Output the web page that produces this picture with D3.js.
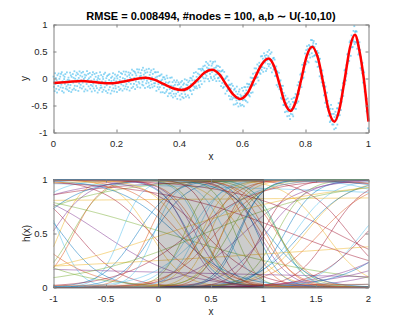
<!DOCTYPE html>
<html>
<head>
<meta charset="utf-8">
<script src="https://cdn.jsdelivr.net/npm/d3@7"></script>
<style>
  body { margin: 0; background: #fff; }
  svg { display: block; font-family: "Liberation Sans", Arial, Helvetica, sans-serif; }
</style>
</head>
<body>
<div id="chart"></div>
<script>
const width = 407, height = 326;

// top panel: fitted curve
const fitX = [0, 0.045, 0.09, 0.135, 0.18, 0.235, 0.29, 0.32, 0.349, 0.379, 0.408, 0.432, 0.456, 0.479,
  0.503, 0.526, 0.548, 0.571, 0.593, 0.616, 0.638, 0.661, 0.683, 0.700, 0.718, 0.735, 0.752, 0.769,
  0.787, 0.804, 0.821, 0.839, 0.857, 0.874, 0.892, 0.908, 0.925, 0.941, 0.957, 0.971, 0.985, 1.0];
const fitY = [-0.085, -0.065, -0.045, -0.068, -0.09, -0.04, 0.015, -0.02, -0.10, -0.18, -0.215, -0.16, -0.03, 0.105,
  0.16, 0.08, -0.11, -0.30, -0.38, -0.27, -0.005, 0.26, 0.37, 0.23, -0.115, -0.46, -0.60, -0.43,
  -0.005, 0.42, 0.59, 0.39, -0.105, -0.60, -0.80, -0.56, 0.005, 0.57, 0.81, 0.52, 0.0, -0.80];

// noisy samples: offset from the fit, in hundredths
const residuals = [
  12,-7,3,-15,18,-2,9,-11,5,-18,14,0,-6,17,-13,7,-1,11,-9,16,
  -4,19,-16,2,-10,13,-19,6,10,-3,15,-12,1,-8,18,-14,4,-5,8,-17,
  3,-11,17,-6,12,-19,9,0,-15,14,-2,7,-13,19,-8,5,-16,11,-1,16,
  -9,2,13,-18,6,-4,18,-12,10,-7,1,15,-14,8,-3,17,-10,4,-19,12,
  7,-15,0,11,-5,19,-17,3,14,-9,6,-1,16,-13,9,-6,2,-18,13,-8,
  18,-3,-12,5,15,-16,1,10,-7,17,-11,4,-19,8,12,-2,-14,6,19,-10,
  -5,14,-9,2,-17,11,7,-13,16,-1,-8,19,3,-15,9,-4,13,-18,0,15,
  -12,6,17,-7,1,-19,10,4,-14,12,-3,18,-10,5,-16,8,15,-6,-11,2,
  11,-18,7,13,-2,-9,19,-15,3,9,-13,16,-5,0,14,-17,6,-8,18,-1,
  -14,4,12,-10,17,-6,-16,8,1,-12,15,-3,10,-19,5,13,-7,2,-15,19,
  9,-1,-13,16,-8,3,14,-18,11,-4,7,-11,18,-15,0,12,-6,17,-9,4,
  -17,10,5,-2,15,-12,-7,19,-14,6,-3,13,-19,9,2,-10,16,-5,11,-16,
  1,-8,18,-13,7,-17,12,-4,16,-10,3,-15,10,-1,19,-7,-12,14,-6,5,
  15,-19,2,8,-11,17,-5,-14,11,0,-9,13,-18,4,16,-3,7,-16,12,-2,
  -7,13,-16,10,-1,5,-12,18,-8,14,-19,6,1,-13,9,-4,17,-11,3,-15,
  19,-6,11,-17,4,-10,15,-2,7,-14,12,-9,0,16,-18,8,-5,13,-1,10,
  -11,3,-18,14,6,-7,17,-13,2,9,-16,11,-4,18,-10,1,-15,7,15,-3,
  5,-14,10,-1,-19,12,-6,16,-9,3,13,-17,8,-2,14,-12,19,-7,4,-11,
  -2,17,-10,7,-15,0,11,-5,18,-13,6,-18,15,-8,1,10,-16,12,-4,9,
  14,-9,4,-16,13,-3,-11,19,-7,8,-1,15,-14,5,11,-19,3,-6,17,-12,
  -15,8,-4,12,-18,16,2,-10,6,-13,19,-5,9,-16,13,-2,5,-9,14,-7,
  6,-12,15,-1,9,-17,4,13,-8,17,-15,1,-11,18,-4,7,-19,11,-3,16,
  -10,18,-5,3,14,-14,8,-2,-17,11,5,-9,16,-12,2,15,-6,-18,10,0,
  13,-4,-15,9,-7,19,-11,6,1,-16,12,-3,17,-9,8,-13,4,-1,18,-14,
  -6,11,1,-19,16,-8,3,14,-12,7,-2,18,-17,10,-5,12,-10,9,-15,2,
  17,-13,6,-3,10,-18,15,-7,4,-11,19,-1,8,-14,13,-6,0,16,-9,3,
  -18,7,12,-8,2,-13,18,-4,-10,15,-6,9,-16,3,17,-11,11,-2,6,-19,
  10,-16,-1,14,-9,5,-14,17,0,-7,13,-12,4,19,-17,6,-3,12,-8,15,
  -3,16,-12,4,-6,13,-19,8,11,-15,2,-5,18,-10,7,-1,14,-16,9,-13,
  8,-2,19,-14,11,-9,3,-17,15,-4,10,-11,5,-18,16,-7,1,13,-12,6,
  -16,12,-7,1,18,-5,-13,9,-19,14,4,-8,11,-3,15,-15,8,-10,2,17,
  4,-19,14,-11,7,-1,16,-6,12,-16,-4,19,-9,6,-14,10,3,-13,18,-5,
  -8,15,-3,17,-12,9,0,-18,13,-6,8,-14,2,16,-1,-11,12,-17,5,11,
  16,-10,8,-6,3,-15,19,-1,-12,10,-18,5,14,-7,9,-19,17,-4,1,-9,
  -13,1,16,-9,12,-2,-16,11,6,-19,15,-8,3,-12,18,-5,10,-14,7,0,
  2,-17,9,-12,19,-7,5,-13,17,-3,-9,12,-15,8,0,14,-18,4,-6,13,
  -19,9,-6,15,-4,11,-14,2,8,-17,16,-10,6,-1,12,-16,7,-3,19,-11,
  12,-5,-17,7,-13,18,-3,10,-8,4,-16,14,-2,11,-19,3,15,-9,5,-12,
  -1,14,-8,19,-16,6,-10,13,-5,17,-12,1,9,-15,4,-7,16,-2,11,-18,
  7,-12,3,-9,15,-17,10,-4,18,-11,0,13,-6,9,-14,16,-3,8,-19,5
];

// bottom panel: hidden node parameters a, b of h(x) = 1 / (1 + exp(-(a x + b)))
const nodeA = [
  -7.3, 4.1, 9.2, -2.6, 6.8, -9.5, 1.4, -5.1, 8.3, -0.7,
  3.6, -8.2, 5.5, -3.9, 0.9, 7.7, -6.4, 2.3, -1.8, 9.8,
  -4.6, 6.1, -9.1, 4.8, -2.2, 8.9, -7.8, 1.1, 5.9, -3.3,
  0.05, -6.9, 7.2, -0.4, 3.0, -8.7, 9.4, -5.6, 2.7, -1.2,
  6.5, -9.9, 4.4, -2.9, 8.1, -7.1, 0.6, 5.2, -4.2, 3.8,
  -6.1, 9.0, -0.2, 1.9, -8.4, 7.4, -3.6, 6.3, -5.3, 2.1,
  -9.3, 4.9, -1.5, 8.6, -7.5, 0.3, 5.7, -2.4, 9.6, -4.9,
  3.3, -6.6, 7.9, -0.9, 1.6, -8.9, 6.0, -3.1, 4.6, -5.8,
  2.5, -9.7, 8.4, -1.1, 7.0, -4.4, 0.8, 5.0, -7.0, 3.9,
  -2.0, 9.1, -6.2, 1.3, -8.0, 6.7, -3.7, 4.2, -5.0, 0.15
];
const nodeB = [
  2.1, -6.3, 8.7, -1.4, 5.6, -9.0, 3.2, -4.7, 0.8, 7.5,
  -2.9, 9.4, -7.1, 1.7, -5.3, 6.2, -0.5, 4.1, -8.6, 3.5,
  -3.6, 0.3, 7.9, -6.7, 9.8, -2.2, 5.0, -9.3, 1.2, -4.1,
  1.48, 6.6, -8.1, 2.8, -0.9, 8.2, -5.7, 4.5, -7.6, 0.1,
  -1.9, 5.3, -6.0, 9.1, -3.3, 2.5, -8.9, 7.2, -0.3, 4.8,
  6.9, -4.4, -1.8, 3.0, 9.6, -7.3, 0.6, -2.7, 8.4, -5.9,
  4.0, -9.5, 1.9, -6.5, 7.7, -1.1, 5.8, -3.9, 0.4, 8.9,
  -7.8, 2.6, -4.8, 6.4, -0.7, 3.7, -9.8, 9.2, -2.5, 1.5,
  -6.2, 7.1, -3.0, 5.5, -8.4, 0.9, 4.3, -5.1, 8.0, -1.6,
  3.4, -7.0, 6.1, -0.1, 2.2, -4.5, 9.7, -8.3, 5.2, -3.8
];

const topTicksX = [0, 0.2, 0.4, 0.6, 0.8, 1];
const topTicksY = [-1, -0.5, 0, 0.5, 1];
const botTicksX = [-1, -0.5, 0, 0.5, 1, 1.5, 2];
const botTicksY = [0, 0.5, 1];
const shadedSpan = [0, 1];
const titleText = "RMSE = 0.008494, #nodes = 100, a,b \u223C U(-10,10)";
const lineColors = ["#0072BD", "#D95319", "#EDB120", "#7E2F8E", "#77AC30", "#4DBEEE", "#A2142F"];

const margin = { left: 53.5 };
const innerWidth = 315, innerHeight = 108;
const topY = 24.5, botY = 179.5;

const svg = d3.select("#chart").append("svg")
  .attr("width", width)
  .attr("height", height)
  .attr("viewBox", [0, 0, width, height]);

// MATLAB-style box with inward ticks on all four sides; labels as plain text
const drawAxes = (g, xScale, yScale, ticksX, ticksY) => {
  const style = sel => {
    sel.select(".domain").attr("stroke", "#808080");
    sel.selectAll(".tick line").attr("stroke", "#808080");
    sel.selectAll(".tick text").remove();
  };
  g.append("g")
    .attr("transform", `translate(0, ${innerHeight})`)
    .call(d3.axisBottom(xScale).tickValues(ticksX).tickSizeInner(-3).tickSizeOuter(0))
    .call(style);
  g.append("g")
    .call(d3.axisTop(xScale).tickValues(ticksX).tickSizeInner(-3).tickSizeOuter(0))
    .call(style);
  g.append("g")
    .call(d3.axisLeft(yScale).tickValues(ticksY).tickSizeInner(-3).tickSizeOuter(0))
    .call(style);
  g.append("g")
    .attr("transform", `translate(${innerWidth}, 0)`)
    .call(d3.axisRight(yScale).tickValues(ticksY).tickSizeInner(-3).tickSizeOuter(0))
    .call(style);

  g.append("g").selectAll("text")
    .data(ticksX)
    .join("text")
      .attr("x", d => xScale(d))
      .attr("y", innerHeight + 14)
      .attr("text-anchor", "middle")
      .attr("fill", "#262626")
      .style("font-size", "9.5px")
      .text(d => String(d));
  g.append("g").selectAll("text")
    .data(ticksY)
    .join("text")
      .attr("x", -6)
      .attr("y", d => yScale(d) + 3.4)
      .attr("text-anchor", "end")
      .attr("fill", "#262626")
      .style("font-size", "9.5px")
      .text(d => String(d));
};

const axisLabel = (text, x, y, rotate) => svg.append("text")
  .attr("transform", `translate(${x}, ${y})` + (rotate ? " rotate(-90)" : ""))
  .attr("text-anchor", "middle")
  .attr("fill", "#262626")
  .style("font-size", "10px")
  .text(text);

// ---- top panel ----
const topChart = svg.append("g")
  .attr("transform", `translate(${margin.left}, ${topY})`);

const xTop = d3.scaleLinear().domain([0, 1]).range([0, innerWidth]);
const yTop = d3.scaleLinear().domain([-1, 1]).range([innerHeight, 0]);

const sampleX = d3.scaleLinear().domain([0, residuals.length - 1]).range([0, 1]);
const fitAt = d3.scaleLinear().domain(fitX).range(fitY).clamp(true);

topChart.selectAll(".sample")
  .data(residuals)
  .join("rect")
    .attr("class", "sample")
    .attr("x", (d, i) => xTop(sampleX(i)) - 0.9)
    .attr("y", (d, i) => yTop(fitAt(sampleX(i)) + d / 100) - 0.9)
    .attr("width", 1.8)
    .attr("height", 1.8)
    .attr("fill", "#4DBEEE")
    .attr("fill-opacity", 0.65);

const fitLine = d3.line()
  .x(d => xTop(d[0]))
  .y(d => yTop(d[1]))
  .curve(d3.curveMonotoneX);

topChart.append("path")
  .datum(d3.zip(fitX, fitY))
  .attr("d", fitLine)
  .attr("fill", "none")
  .attr("stroke", "#FF0000")
  .attr("stroke-width", 2.5);

drawAxes(topChart, xTop, yTop, topTicksX, topTicksY);

svg.append("text")
  .attr("x", margin.left + innerWidth / 2)
  .attr("y", 20)
  .attr("text-anchor", "middle")
  .attr("fill", "#000")
  .style("font-size", "11px")
  .style("font-weight", "bold")
  .text(titleText);

axisLabel("x", margin.left + innerWidth / 2, 160, false);
axisLabel("y", 28, topY + innerHeight / 2, true);

// ---- bottom panel ----
const botChart = svg.append("g")
  .attr("transform", `translate(${margin.left}, ${botY})`);

const xBot = d3.scaleLinear().domain([-1, 2]).range([0, innerWidth]);
const yBot = d3.scaleLinear().domain([0, 1]).range([innerHeight, 0]);

const gridX = d3.range(-1, 2.0001, 0.01);
const nodes = d3.zip(nodeA, nodeB);

const nodeLine = d3.line()
  .x(d => xBot(d[0]))
  .y(d => yBot(d[1]));

botChart.selectAll(".node-curve")
  .data(nodes)
  .join("path")
    .attr("class", "node-curve")
    .attr("d", ([a, b]) => nodeLine(gridX.map(x => [x, 1 / (1 + Math.exp(-(a * x + b)))])))
    .attr("fill", "none")
    .attr("stroke", (d, i) => lineColors[i % lineColors.length])
    .attr("stroke-width", 0.6)
    .attr("stroke-opacity", 0.85);

botChart.append("rect")
  .attr("x", xBot(shadedSpan[0]))
  .attr("y", 0)
  .attr("width", xBot(shadedSpan[1]) - xBot(shadedSpan[0]))
  .attr("height", innerHeight)
  .attr("fill", "#000")
  .attr("fill-opacity", 0.2)
  .attr("stroke", "#333")
  .attr("stroke-width", 0.8);

drawAxes(botChart, xBot, yBot, botTicksX, botTicksY);

axisLabel("x", margin.left + innerWidth / 2, 315, false);
axisLabel("h(x)", 30, botY + innerHeight / 2, true);
</script>
</body>
</html>
